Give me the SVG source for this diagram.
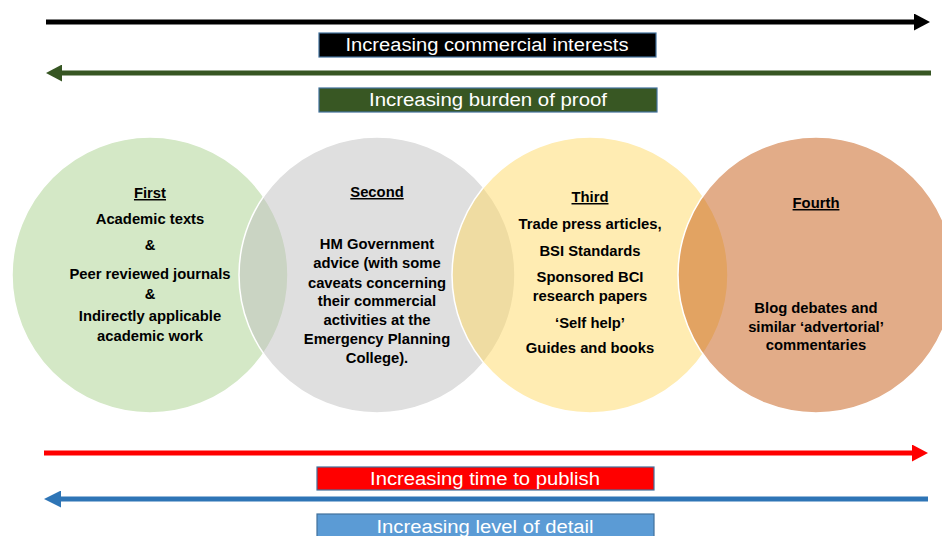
<svg xmlns="http://www.w3.org/2000/svg" width="942" height="536" viewBox="0 0 942 536">
<style>
.c{stroke:#FFFFFF;stroke-width:1.5;fill-opacity:0.5}
.t{font-family:"Liberation Sans",Arial,sans-serif;font-weight:bold;font-size:14.8px;fill:#000000;text-anchor:middle}
.h{text-decoration:underline}
.bn{font-family:"Liberation Sans",Arial,sans-serif;font-size:18px;fill:#FFFFFF;text-anchor:middle}
.bx{stroke:#41719C;stroke-width:1.2}
.ln{stroke-width:5;fill:none}
</style>
<defs>
<marker id="hk" markerUnits="userSpaceOnUse" markerWidth="16" markerHeight="17" viewBox="0 0 16 17" refX="0" refY="8.5" orient="auto"><path d="M0,0 L16,8.5 L0,17 Z" fill="#000000"/></marker>
<marker id="hg" markerUnits="userSpaceOnUse" markerWidth="16" markerHeight="17" viewBox="0 0 16 17" refX="0" refY="8.5" orient="auto"><path d="M0,0 L16,8.5 L0,17 Z" fill="#375623"/></marker>
<marker id="hr" markerUnits="userSpaceOnUse" markerWidth="16" markerHeight="17" viewBox="0 0 16 17" refX="0" refY="8.5" orient="auto"><path d="M0,0 L16,8.5 L0,17 Z" fill="#FF0000"/></marker>
<marker id="hb" markerUnits="userSpaceOnUse" markerWidth="17" markerHeight="17" viewBox="0 0 17 17" refX="0" refY="8.5" orient="auto"><path d="M0,0 L17,8.5 L0,17 Z" fill="#2E75B6"/></marker>
</defs>
<rect width="942" height="536" fill="#FFFFFF"/>
<g id="connectors">
<line class="ln" x1="46" y1="22" x2="914" y2="22" stroke="#000000" marker-end="url(#hk)"/>
<line class="ln" x1="931" y1="73" x2="62" y2="73" stroke="#375623" marker-end="url(#hg)"/>
<line class="ln" x1="44" y1="453" x2="912" y2="453" stroke="#FF0000" marker-end="url(#hr)"/>
<line class="ln" x1="928" y1="499" x2="61" y2="499" stroke="#2E75B6" marker-end="url(#hb)"/>
</g>
<g id="label-commercial">
<rect class="bx" x="319" y="33" width="337" height="24" fill="#000000"/>
<text class="bn" x="487" y="51" textLength="283" lengthAdjust="spacingAndGlyphs">Increasing commercial interests</text>
</g>
<g id="label-proof">
<rect class="bx" x="319" y="88" width="338" height="24" fill="#385723"/>
<text class="bn" x="488" y="106" textLength="238" lengthAdjust="spacingAndGlyphs">Increasing burden of proof</text>
</g>
<g id="label-time">
<rect class="bx" x="317" y="467" width="337" height="23" fill="#FF0000"/>
<text class="bn" x="485" y="485" textLength="230" lengthAdjust="spacingAndGlyphs">Increasing time to publish</text>
</g>
<g id="label-detail">
<rect class="bx" x="317" y="514" width="337" height="24" fill="#5B9BD5"/>
<text class="bn" x="485" y="533" textLength="217" lengthAdjust="spacingAndGlyphs">Increasing level of detail</text>
</g>
<g id="first">
<circle class="c" cx="150" cy="275" r="138" fill="#A9D18E"/>
</g>
<g id="second">
<circle class="c" cx="377" cy="275" r="138" fill="#BFBFBF"/>
</g>
<g id="third">
<circle class="c" cx="590" cy="275" r="138" fill="#FFD966"/>
</g>
<g id="fourth">
<circle class="c" cx="816" cy="275" r="138" fill="#C55A11"/>
</g>
<g id="first-text">
<text class="t h" x="150" y="198">First</text>
<text class="t" x="150" y="224">Academic texts</text>
<text class="t" x="150" y="250">&amp;</text>
<text class="t" x="150" y="279">Peer reviewed journals</text>
<text class="t" x="150" y="299">&amp;</text>
<text class="t" x="150" y="321">Indirectly applicable</text>
<text class="t" x="150" y="341">academic work</text>
</g>
<g id="second-text">
<text class="t h" x="377" y="197">Second</text>
<text class="t" x="377" y="249">HM Government</text>
<text class="t" x="377" y="268">advice (with some</text>
<text class="t" x="377" y="288">caveats concerning</text>
<text class="t" x="377" y="306">their commercial</text>
<text class="t" x="377" y="325">activities at the</text>
<text class="t" x="377" y="344">Emergency Planning</text>
<text class="t" x="377" y="363">College).</text>
</g>
<g id="third-text">
<text class="t h" x="590" y="202">Third</text>
<text class="t" x="590" y="229">Trade press articles,</text>
<text class="t" x="590" y="256">BSI Standards</text>
<text class="t" x="590" y="282">Sponsored BCI</text>
<text class="t" x="590" y="301">research papers</text>
<text class="t" x="590" y="328">‘Self help’</text>
<text class="t" x="590" y="353">Guides and books</text>
</g>
<g id="fourth-text">
<text class="t h" x="816" y="208">Fourth</text>
<text class="t" x="816" y="313">Blog debates and</text>
<text class="t" x="816" y="332">similar ‘advertorial’</text>
<text class="t" x="816" y="350">commentaries</text>
</g>
</svg>
